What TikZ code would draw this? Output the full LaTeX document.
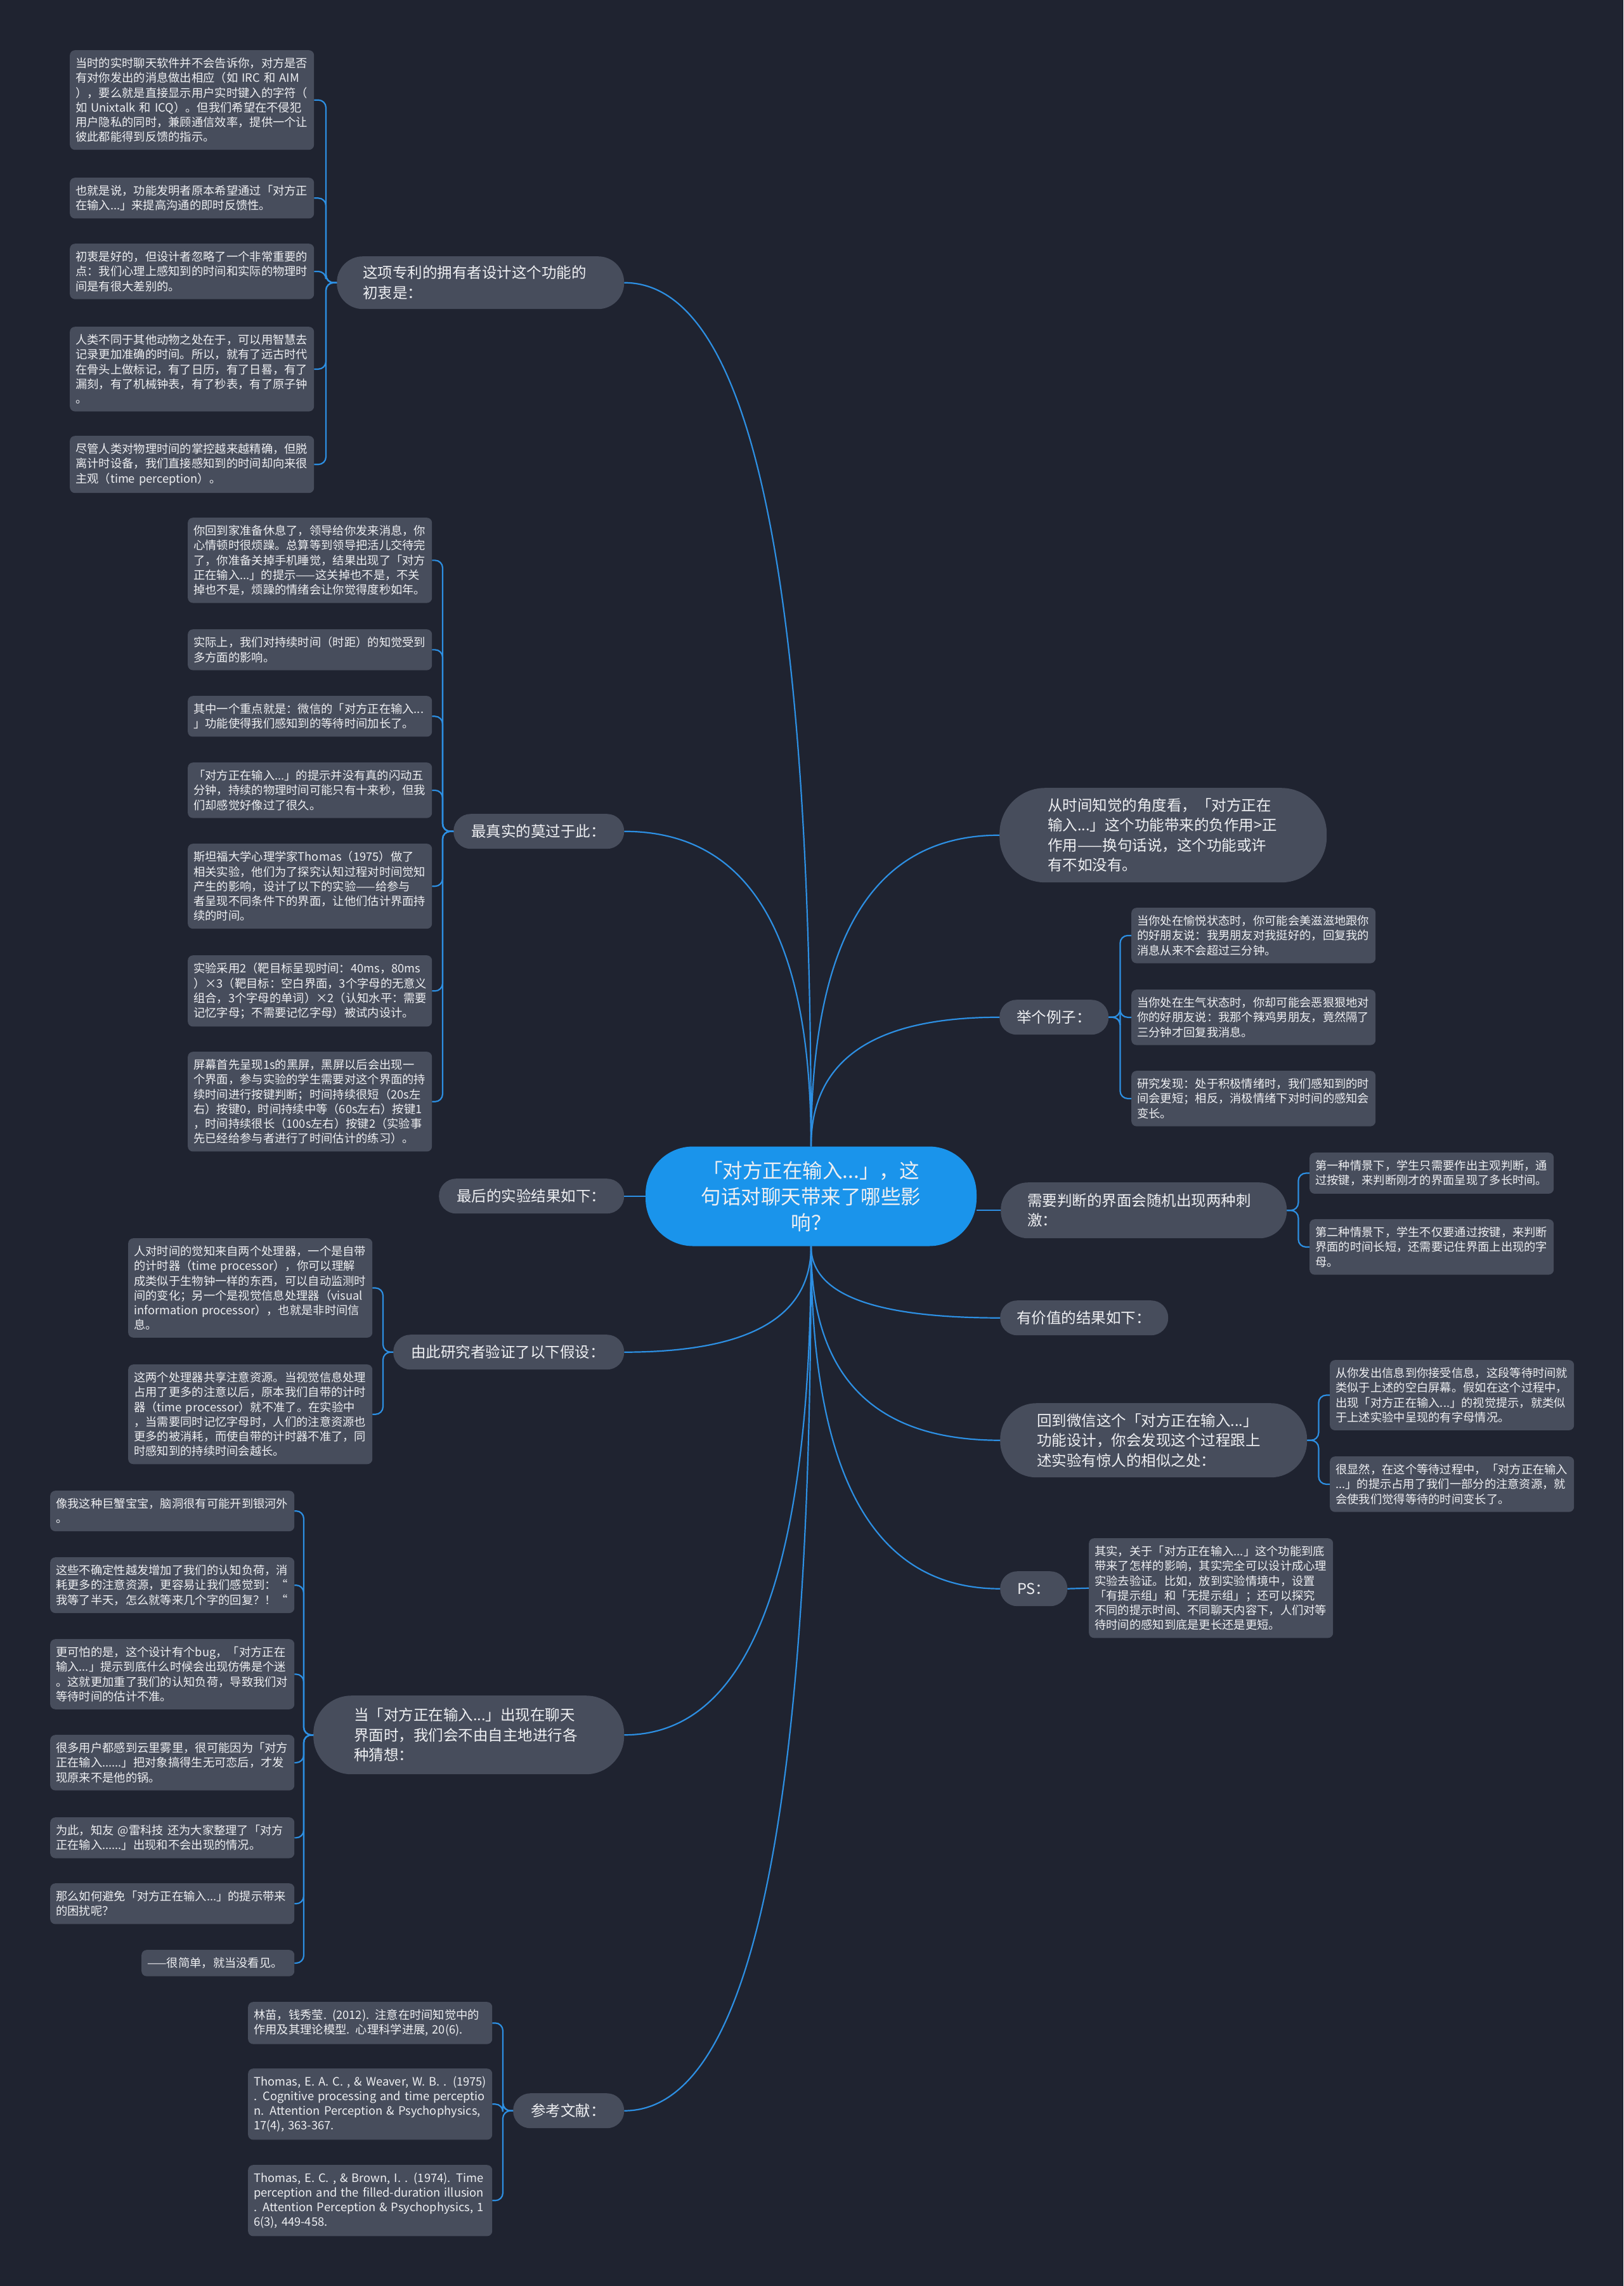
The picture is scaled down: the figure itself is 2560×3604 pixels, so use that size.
\documentclass[tikz,border=0pt]{standalone}
\usepackage{fontspec}
\setmainfont{Noto Sans CJK SC}
\usetikzlibrary{calc}
\definecolor{bgcol}{HTML}{1F2330}
\definecolor{boxcol}{HTML}{474D5C}
\definecolor{rootcol}{HTML}{1A94EB}
\definecolor{linkcol}{HTML}{2D8FE2}
\definecolor{textcol}{HTML}{EEEFF2}
\begin{document}
\begin{tikzpicture}[x=1pt,y=1pt]
	\tikzstyle{every node}+=[text=textcol]
	\tikzstyle{leaf}=[anchor=north west, fill=boxcol, rounded corners=8pt, font=\fontsize{18.3}{23.2}\selectfont, text width=367pt, align=left, inner xsep=9pt, inner ysep=12pt]
	\tikzstyle{pill}=[anchor=north west, fill=boxcol, rounded corners=27pt, font=\fontsize{23.5}{31.5}\selectfont, align=left, inner xsep=28pt, inner ysep=10pt, minimum height=55pt]
	\tikzstyle{topic}=[fill=rootcol, rounded corners=75pt, minimum width=522pt, minimum height=157pt, text width=350pt, align=center, inner sep=0pt, font=\fontsize{31.5}{41}\selectfont]
	\tikzstyle{link}=[draw=linkcol, line width=2.2pt]
	\tikzstyle{twig}=[link, rounded corners=12pt]
	\fill [bgcol] (0,0) rectangle (2560,-3604);
	\useasboundingbox (0,0) rectangle (2560,-3604);
	\node [topic] (root) at (1279,-1886) {「对方正在输入...」，这\\句话对聊天带来了哪些影\\响？};
	\node [pill, text width=371pt, inner xsep=41pt, minimum height=83pt, rounded corners=41pt] (intent) at (531,-404) {这项专利的拥有者设计这个功能的\\初衷是：};
	\node [pill, text width=213pt] (real) at (715,-1283) {最真实的莫过于此：};
	\node [pill, text width=236pt] (result) at (692,-1858) {最后的实验结果如下：};
	\node [pill, text width=308pt] (hypo) at (620,-2104) {由此研究者验证了以下假设：};
	\node [pill, text width=362pt, inner xsep=64pt, minimum height=124pt, rounded corners=60pt] (guess) at (494,-2673) {当「对方正在输入...」出现在聊天\\界面时，我们会不由自主地进行各\\种猜想：};
	\node [pill, text width=119pt] (refs) at (809,-3300) {参考文献：};
	\node [pill, text width=364pt, inner xsep=76pt, minimum height=149pt, rounded corners=72pt] (view) at (1576,-1242) {从时间知觉的角度看，「对方正在\\输入...」这个功能带来的负作用>正\\作用——换句话说，这个功能或许\\有不如没有。};
	\node [pill, text width=118pt, inner xsep=27pt] (example) at (1576,-1576) {举个例子：};
	\node [pill, text width=367pt, inner xsep=42pt, minimum height=88pt, rounded corners=43pt] (stimuli) at (1578,-1864) {需要判断的界面会随机出现两种刺\\激：};
	\node [pill, text width=213pt, inner xsep=26pt] (valuable) at (1577,-2050) {有价值的结果如下：};
	\node [pill, text width=368pt, inner xsep=58pt, minimum height=117pt, rounded corners=57pt] (wechat) at (1577,-2212) {回到微信这个「对方正在输入...」\\功能设计，你会发现这个过程跟上\\述实验有惊人的相似之处：};
	\node [pill, text width=52pt, inner xsep=27pt] (ps) at (1577,-2477) {PS：};
	\node [leaf] (intent1) at (110,-79) {当时的实时聊天软件并不会告诉你，对方是否\\\mbox{有对你发出的消息做出相应（如 IRC 和 AIM}\\），要么就是直接显示用户实时键入的字符（\\\mbox{如 Unixtalk 和 ICQ）。但我们希望在不侵犯}\\用户隐私的同时，兼顾通信效率，提供一个让\\彼此都能得到反馈的指示。};
	\node [leaf] (intent2) at (110,-280) {也就是说，功能发明者原本希望通过「对方正\\在输入...」来提高沟通的即时反馈性。};
	\node [leaf] (intent3) at (110,-384) {初衷是好的，但设计者忽略了一个非常重要的\\点：我们心理上感知到的时间和实际的物理时\\间是有很大差别的。};
	\node [leaf] (intent4) at (110,-515) {人类不同于其他动物之处在于，可以用智慧去\\记录更加准确的时间。所以，就有了远古时代\\在骨头上做标记，有了日历，有了日晷，有了\\漏刻，有了机械钟表，有了秒表，有了原子钟\\。};
	\node [leaf] (intent5) at (110,-687) {尽管人类对物理时间的掌控越来越精确，但脱\\离计时设备，我们直接感知到的时间却向来很\\\mbox{主观（time perception）。}};
	\node [leaf] (real1) at (296,-816) {你回到家准备休息了，领导给你发来消息，你\\心情顿时很烦躁。总算等到领导把活儿交待完\\了，你准备关掉手机睡觉，结果出现了「对方\\正在输入...」的提示——这关掉也不是，不关\\掉也不是，烦躁的情绪会让你觉得度秒如年。};
	\node [leaf] (real2) at (296,-992) {实际上，我们对持续时间（时距）的知觉受到\\多方面的影响。};
	\node [leaf] (real3) at (296,-1097) {其中一个重点就是：微信的「对方正在输入...\\」功能使得我们感知到的等待时间加长了。};
	\node [leaf] (real4) at (296,-1202) {「对方正在输入...」的提示并没有真的闪动五\\分钟，持续的物理时间可能只有十来秒，但我\\们却感觉好像过了很久。};
	\node [leaf] (real5) at (296,-1330) {斯坦福大学心理学家Thomas（1975）做了\\相关实验，他们为了探究认知过程对时间觉知\\产生的影响，设计了以下的实验——给参与\\者呈现不同条件下的界面，让他们估计界面持\\续的时间。};
	\node [leaf] (real6) at (296,-1506) {实验采用2（靶目标呈现时间：40ms，80ms\\）×3（靶目标：空白界面，3个字母的无意义\\组合，3个字母的单词）×2（认知水平：需要\\记忆字母；不需要记忆字母）被试内设计。};
	\node [leaf] (real7) at (296,-1658) {屏幕首先呈现1s的黑屏，黑屏以后会出现一\\个界面，参与实验的学生需要对这个界面的持\\续时间进行按键判断；时间持续很短（20s左\\右）按键0，时间持续中等（60s左右）按键1\\，时间持续很长（100s左右）按键2（实验事\\先已经给参与者进行了时间估计的练习）。};
	\node [leaf] (hypo1) at (202,-1952) {人对时间的觉知来自两个处理器，一个是自带\\\mbox{的计时器（time processor），你可以理解}\\成类似于生物钟一样的东西，可以自动监测时\\间的变化；另一个是视觉信息处理器（visual\\\mbox{information processor），也就是非时间信}\\息。};
	\node [leaf] (hypo2) at (202,-2151) {这两个处理器共享注意资源。当视觉信息处理\\占用了更多的注意以后，原本我们自带的计时\\\mbox{器（time processor）就不准了。在实验中}\\，当需要同时记忆字母时，人们的注意资源也\\更多的被消耗，而使自带的计时器不准了，同\\时感知到的持续时间会越长。};
	\node [leaf] (guess1) at (79,-2350) {像我这种巨蟹宝宝，脑洞很有可能开到银河外\\。};
	\node [leaf] (guess2) at (79,-2455) {这些不确定性越发增加了我们的认知负荷，消\\耗更多的注意资源，更容易让我们感觉到：“\\我等了半天，怎么就等来几个字的回复？！“};
	\node [leaf] (guess3) at (79,-2584) {更可怕的是，这个设计有个bug，「对方正在\\输入...」提示到底什么时候会出现仿佛是个迷\\。这就更加重了我们的认知负荷，导致我们对\\等待时间的估计不准。};
	\node [leaf] (guess4) at (79,-2735) {很多用户都感到云里雾里，很可能因为「对方\\正在输入......」把对象搞得生无可恋后，才发\\现原来不是他的锅。};
	\node [leaf] (guess5) at (79,-2865) {\mbox{为此，知友 @雷科技 还为大家整理了「对方}\\正在输入......」出现和不会出现的情况。};
	\node [leaf] (guess6) at (79,-2969) {那么如何避免「对方正在输入...」的提示带来\\的困扰呢？};
	\node [leaf, text width=223pt] (guess7) at (223,-3074) {——很简单，就当没看见。};
	\node [leaf] (refs1) at (391,-3156) {\mbox{林苗，钱秀莹. (2012). 注意在时间知觉中的}\\\mbox{作用及其理论模型. 心理科学进展, 20(6).}};
	\node [leaf] (refs2) at (391,-3261) {\mbox{Thomas, E. A. C. , \& Weaver, W. B. . (1975)}\\\mbox{. Cognitive processing and time perceptio}\\\mbox{n. Attention Perception \& Psychophysics,}\\\mbox{17(4), 363-367.}};
	\node [leaf] (refs3) at (391,-3413) {\mbox{Thomas, E. C. , \& Brown, I. . (1974). Time}\\\mbox{perception and the filled-duration illusion}\\\mbox{. Attention Perception \& Psychophysics, 1}\\\mbox{6(3), 449-458.}};
	\node [leaf] (example1) at (1784,-1431) {当你处在愉悦状态时，你可能会美滋滋地跟你\\的好朋友说：我男朋友对我挺好的，回复我的\\消息从来不会超过三分钟。};
	\node [leaf] (example2) at (1784,-1560) {当你处在生气状态时，你却可能会恶狠狠地对\\你的好朋友说：我那个辣鸡男朋友，竟然隔了\\三分钟才回复我消息。};
	\node [leaf] (example3) at (1784,-1688) {研究发现：处于积极情绪时，我们感知到的时\\间会更短；相反，消极情绪下对时间的感知会\\变长。};
	\node [leaf] (stimuli1) at (2065,-1817) {第一种情景下，学生只需要作出主观判断，通\\过按键，来判断刚才的界面呈现了多长时间。};
	\node [leaf] (stimuli2) at (2065,-1922) {第二种情景下，学生不仅要通过按键，来判断\\界面的时间长短，还需要记住界面上出现的字\\母。};
	\node [leaf] (wechat1) at (2097,-2144) {从你发出信息到你接受信息，这段等待时间就\\类似于上述的空白屏幕。假如在这个过程中，\\出现「对方正在输入...」的视觉提示，就类似\\于上述实验中呈现的有字母情况。};
	\node [leaf] (wechat2) at (2097,-2296) {很显然，在这个等待过程中，「对方正在输入\\...」的提示占用了我们一部分的注意资源，就\\会使我们觉得等待的时间变长了。};
	\node [leaf] (psnote) at (1717,-2425) {其实，关于「对方正在输入...」这个功能到底\\带来了怎样的影响，其实完全可以设计成心理\\实验去验证。比如，放到实验情境中，设置\\「有提示组」和「无提示组」；还可以探究\\不同的提示时间、不同聊天内容下，人们对等\\待时间的感知到底是更长还是更短。};
	\draw [link] (root.north) .. controls ($(root.north)!.67!(root.north |- intent.east)$) and ($(intent.east)!.67!(root.north |- intent.east)$) .. (intent.east);
	\draw [link] (root.north) .. controls ($(root.north)!.67!(root.north |- real.east)$) and ($(real.east)!.67!(root.north |- real.east)$) .. (real.east);
	\draw [link] (root.north) .. controls ($(root.north)!.67!(root.north |- view.west)$) and ($(view.west)!.67!(root.north |- view.west)$) .. (view.west);
	\draw [link] (root.north) .. controls ($(root.north)!.67!(root.north |- example.west)$) and ($(example.west)!.67!(root.north |- example.west)$) .. (example.west);
	\draw [link] (result.east) -- (result.east -| root.west);
	\draw [link] (stimuli.west) -- (stimuli.west -| root.east);
	\draw [link] (root.south) .. controls ($(root.south)!.67!(root.south |- hypo.east)$) and ($(hypo.east)!.67!(root.south |- hypo.east)$) .. (hypo.east);
	\draw [link] (root.south) .. controls ($(root.south)!.67!(root.south |- guess.east)$) and ($(guess.east)!.67!(root.south |- guess.east)$) .. (guess.east);
	\draw [link] (root.south) .. controls ($(root.south)!.67!(root.south |- refs.east)$) and ($(refs.east)!.67!(root.south |- refs.east)$) .. (refs.east);
	\draw [link] (root.south) .. controls ($(root.south)!.67!(root.south |- valuable.west)$) and ($(valuable.west)!.67!(root.south |- valuable.west)$) .. (valuable.west);
	\draw [link] (root.south) .. controls ($(root.south)!.67!(root.south |- wechat.west)$) and ($(wechat.west)!.67!(root.south |- wechat.west)$) .. (wechat.west);
	\draw [link] (root.south) .. controls ($(root.south)!.67!(root.south |- ps.west)$) and ($(ps.west)!.67!(root.south |- ps.west)$) .. (ps.west);
	\draw [twig] (intent.west) -- ++(-17,0) |- (intent1.east);
	\draw [twig] (intent.west) -- ++(-17,0) |- (intent2.east);
	\draw [twig] (intent.west) -- ++(-17,0) |- (intent3.east);
	\draw [twig] (intent.west) -- ++(-17,0) |- (intent4.east);
	\draw [twig] (intent.west) -- ++(-17,0) |- (intent5.east);
	\draw [twig] (real.west) -- ++(-17,0) |- (real1.east);
	\draw [twig] (real.west) -- ++(-17,0) |- (real2.east);
	\draw [twig] (real.west) -- ++(-17,0) |- (real3.east);
	\draw [twig] (real.west) -- ++(-17,0) |- (real4.east);
	\draw [twig] (real.west) -- ++(-17,0) |- (real5.east);
	\draw [twig] (real.west) -- ++(-17,0) |- (real6.east);
	\draw [twig] (real.west) -- ++(-17,0) |- (real7.east);
	\draw [twig] (hypo.west) -- ++(-16,0) |- (hypo1.east);
	\draw [twig] (hypo.west) -- ++(-16,0) |- (hypo2.east);
	\draw [twig] (guess.west) -- ++(-15,0) |- (guess1.east);
	\draw [twig] (guess.west) -- ++(-15,0) |- (guess2.east);
	\draw [twig] (guess.west) -- ++(-15,0) |- (guess3.east);
	\draw [twig] (guess.west) -- ++(-15,0) |- (guess4.east);
	\draw [twig] (guess.west) -- ++(-15,0) |- (guess5.east);
	\draw [twig] (guess.west) -- ++(-15,0) |- (guess6.east);
	\draw [twig] (guess.west) -- ++(-15,0) |- (guess7.east);
	\draw [twig] (refs.west) -- ++(-16,0) |- (refs1.east);
	\draw [twig] (refs.west) -- ++(-16,0) |- (refs2.east);
	\draw [twig] (refs.west) -- ++(-16,0) |- (refs3.east);
	\draw [twig] (example.east) -- ++(18,0) |- (example1.west);
	\draw [twig] (example.east) -- ++(18,0) |- (example2.west);
	\draw [twig] (example.east) -- ++(18,0) |- (example3.west);
	\draw [twig] (stimuli.east) -- ++(18,0) |- (stimuli1.west);
	\draw [twig] (stimuli.east) -- ++(18,0) |- (stimuli2.west);
	\draw [twig] (wechat.east) -- ++(18,0) |- (wechat1.west);
	\draw [twig] (wechat.east) -- ++(18,0) |- (wechat2.west);
	\draw [link] (ps.east) -- (psnote.west);
\end{tikzpicture}
\end{document}
